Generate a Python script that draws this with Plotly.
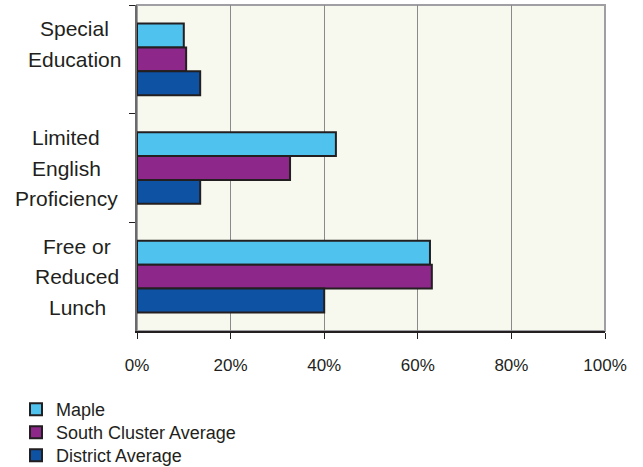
import plotly.graph_objects as go

categories = ["Special Education", "Limited English Proficiency", "Free or Reduced Lunch"]
label_lines = [["Special", "Education", ""], ["Limited", "English", "Proficiency"], ["Free or", "Reduced", "Lunch"]]
series_names = ["Maple", "South Cluster Average", "District Average"]
maple = [10.0, 42.5, 62.6]
south = [10.5, 32.7, 63.0]
district = [13.5, 13.5, 40.0]
colors = ["#4FC3EE", "#8E278A", "#0E52A4"]
x_ticks = [0, 20, 40, 60, 80, 100]

W, H = 643, 467
L, R, T, B = 137, 38, 5, 136
plot_w = W - L - R

FAM = "Liberation Sans, Arial, sans-serif"
TXT = "#231F20"

fig = go.Figure()
legend_names = ["legend", "legend2", "legend3"]
for name, vals, col, lg in zip(series_names, [maple, south, district], colors, legend_names):
    fig.add_trace(go.Bar(
        y=categories, x=vals, name=name, orientation="h", legend=lg,
        marker=dict(color=col, line=dict(color=TXT, width=2)),
    ))

# label block centres (px from left of image)
label_centres_px = [74, 66, 77]
annotations = []
for cat, lines, cpx in zip(categories, label_lines, label_centres_px):
    for i, line in enumerate(lines):
        if not line:
            continue
        annotations.append(dict(
            x=(cpx - L) / plot_w, xref="paper", y=cat, yref="y",
            text=line, showarrow=False, xanchor="center", yanchor="middle",
            yshift=(1 - i) * 30.5,
            font=dict(family=FAM, size=21, color=TXT),
        ))

legend_tops_px = [391, 414, 437]
legend_cfg = {}
for lg, top in zip(legend_names, legend_tops_px):
    legend_cfg[lg] = dict(
        x=16 / W, y=1 - top / H, xref="container", yref="container",
        xanchor="left", yanchor="top", bgcolor="rgba(0,0,0,0)",
        font=dict(family=FAM, size=18, color=TXT), itemwidth=30,
    )

fig.update_layout(
    width=W, height=H,
    margin=dict(l=L, r=R, t=T, b=B, autoexpand=False),
    paper_bgcolor="white",
    plot_bgcolor="#F8F9EE",
    barmode="group",
    bargap=0.34,
    bargroupgap=0,
    font=dict(family=FAM, size=18, color=TXT),
    showlegend=True,
    xaxis=dict(
        range=[0, 100], tickvals=x_ticks, ticktext=[f"{v}%" for v in x_ticks],
        tickfont=dict(family=FAM, size=17, color=TXT),
        showgrid=True, gridcolor="#8A8A8A", gridwidth=1,
        showline=True, linecolor=TXT, linewidth=1.5,
        ticks="outside", ticklen=6, tickcolor=TXT,
        ticklabelstandoff=12, zeroline=False, fixedrange=True,
    ),
    yaxis=dict(
        autorange="reversed", showticklabels=False,
        showline=True, linecolor="#6A6A6A", linewidth=1.5,
        ticks="outside", ticklen=6, tickcolor=TXT, tickson="boundaries",
        showgrid=False, fixedrange=True,
    ),
    annotations=annotations,
    shapes=[dict(type="rect", xref="x domain", yref="y domain", x0=0, x1=1, y0=0, y1=1,
                 line=dict(color="#A0A0A4", width=2), layer="below")],
    **legend_cfg,
)

fig.write_html(
    "out.html",
    config={"displayModeBar": False},
    post_script="document.body.style.margin='0';document.body.style.overflow='hidden';",
)
